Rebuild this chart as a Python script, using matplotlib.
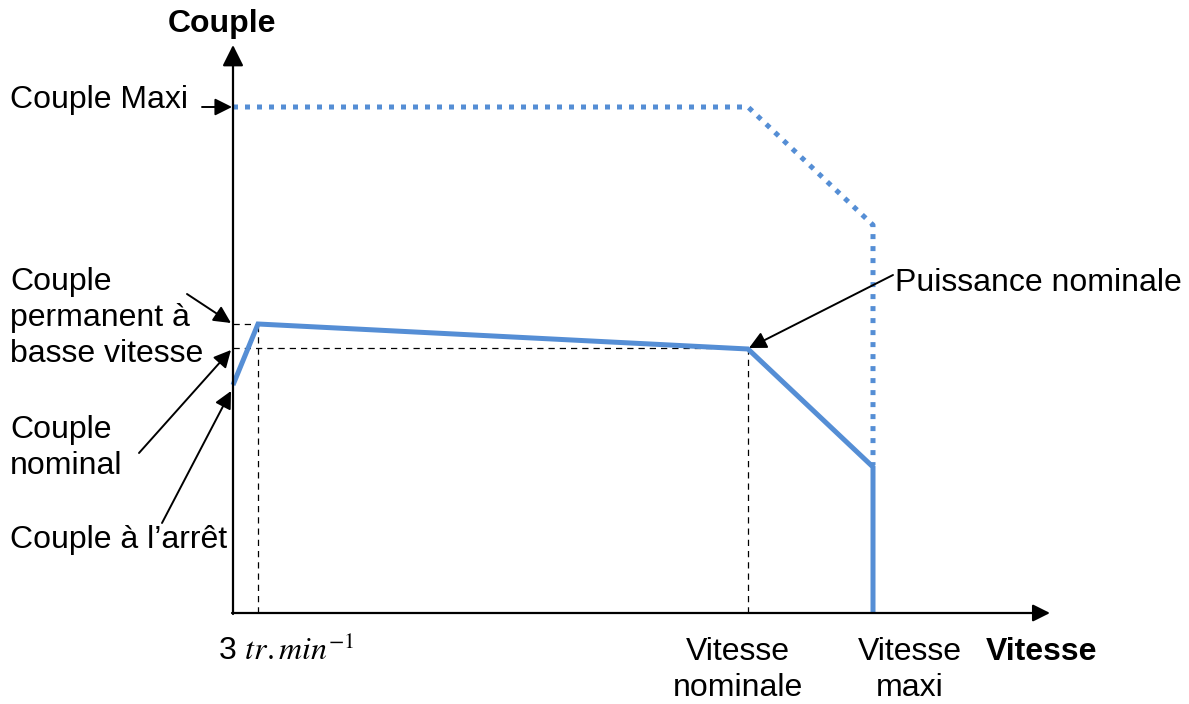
import matplotlib
matplotlib.use("Agg")
import matplotlib.pyplot as plt

plt.rcParams['font.family'] = ['Liberation Sans', 'DejaVu Sans']
plt.rcParams['mathtext.fontset'] = 'stix'

# Data (arbitrary units: speed, torque)
speed_solid = [0, 25, 515, 640, 640]
couple_solid = [228, 289, 264, 146, 0]
speed_maxi = [0, 515, 640, 640]
couple_maxi = [506, 506, 388, 148]
couple_perm = 289
couple_nom = 265
speed_low = 25
speed_nom = 515
speed_max = 640

BLUE = '#558ed5'
FS = 23
LS = 1.25

fig = plt.figure(figsize=(11.89, 7.04), dpi=100)
ax = fig.add_axes([0, 0, 1, 1])
ax.set_xlim(-233, 956)
ax.set_ylim(-91, 613)
ax.axis('off')

# axes arrows
arr = dict(arrowstyle='-|>', lw=1.6, color='black', shrinkA=0, shrinkB=0, mutation_scale=30)
ax.annotate('', xy=(0, 568), xytext=(0, -1), arrowprops=dict(arr, mutation_scale=32))
ax.annotate('', xy=(817, 0), xytext=(-1, 0), arrowprops=dict(arr, mutation_scale=26))

# dashed guide lines
dkw = dict(color='black', lw=0.9, ls=(0, (5, 4)))
ax.plot([0, speed_low], [couple_perm, couple_perm], **dkw)
ax.plot([speed_low, speed_low], [0, couple_perm], **dkw)
ax.plot([0, speed_nom], [couple_nom, couple_nom], **dkw)
ax.plot([speed_nom, speed_nom], [0, couple_nom], **dkw)

# curves
ax.plot(speed_maxi, couple_maxi, color=BLUE, lw=3.6, ls=(0, (1, 1.4)),
        dash_capstyle='butt', solid_joinstyle='miter')
ax.plot(speed_solid, couple_solid, color=BLUE, lw=3.6, solid_joinstyle='miter',
        solid_capstyle='butt')

# annotations
aarr = dict(arrowstyle='-|>', lw=1.4, color='black', shrinkA=0, shrinkB=0, mutation_scale=26)
ax.annotate('', xy=(-1, 506), xytext=(-31, 506), arrowprops=aarr)
ax.annotate('', xy=(-2, 290), xytext=(-46, 319), arrowprops=aarr)
ax.annotate('', xy=(-2, 263), xytext=(-94, 160), arrowprops=aarr)
ax.annotate('', xy=(-2, 222), xytext=(-71, 90), arrowprops=aarr)
ax.annotate('', xy=(516, 265), xytext=(660, 338), arrowprops=aarr)

# texts
ax.text(-11, 589, 'Couple', fontsize=FS, fontweight='bold', ha='center', va='center')
ax.text(-223, 513, 'Couple Maxi', fontsize=FS, ha='left', va='center')
ax.text(-223, 295, 'Couple\npermanent à\nbasse vitesse', fontsize=FS, ha='left', va='center',
        linespacing=LS)
ax.text(-223, 165, 'Couple\nnominal', fontsize=FS, ha='left', va='center', linespacing=LS)
ax.text(-223, 73, 'Couple à l’arrêt', fontsize=FS, ha='left', va='center')
ax.text(662, 330, 'Puissance nominale', fontsize=FS, ha='left', va='center')
ax.text(-15, -38, r'3 $tr.min^{-1}$', fontsize=FS, ha='left', va='center')
ax.text(speed_nom - 10, -57, 'Vitesse\nnominale', fontsize=FS, ha='center', va='center',
        linespacing=LS)
ax.text(speed_max + 37, -57, 'Vitesse\nmaxi', fontsize=FS, ha='center', va='center',
        linespacing=LS)
ax.text(809, -39, 'Vitesse', fontsize=FS, fontweight='bold', ha='center', va='center')

fig.savefig('out.png', dpi=100)
